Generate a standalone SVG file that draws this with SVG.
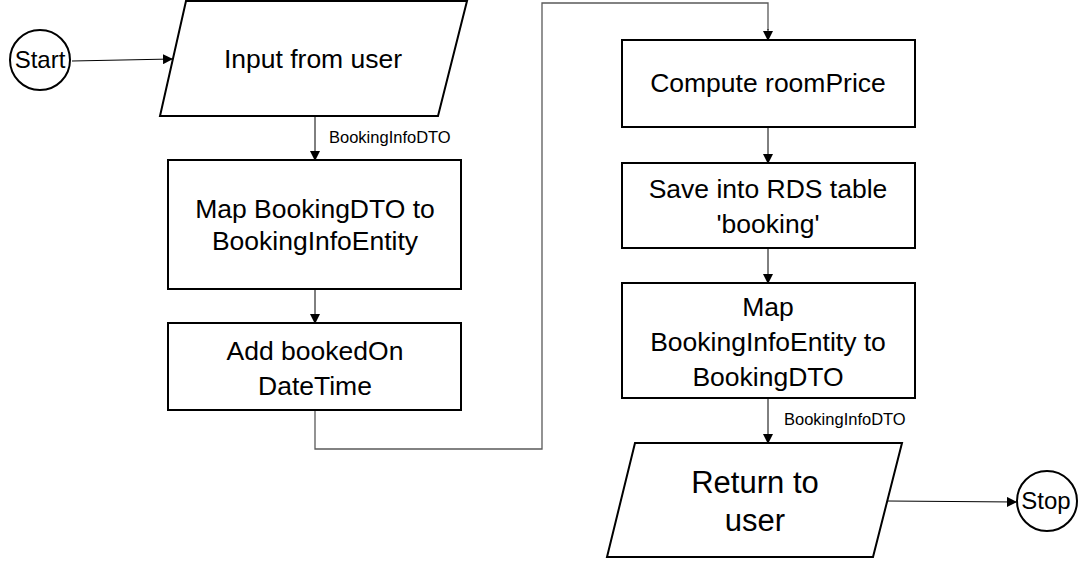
<svg xmlns="http://www.w3.org/2000/svg" width="1092" height="561" viewBox="0 0 1092 561">
<defs>
<marker id="ah" markerWidth="10" markerHeight="10" refX="9" refY="5" orient="auto" markerUnits="userSpaceOnUse">
<path d="M0,0 L10,5 L0,10 z" fill="#000"/>
</marker>
<style>
.shape{fill:#fff;stroke:#000;stroke-width:2}
.t{font-family:"Liberation Sans",Arial,sans-serif;font-size:26.5px;fill:#000;text-anchor:middle}
.big{font-size:31px}
.sm{font-size:24px}
.lbl{font-family:"Liberation Sans",Arial,sans-serif;font-size:16.5px;fill:#000}
.c{fill:none;stroke:#000;stroke-width:1}
.g{fill:none;stroke:#595959;stroke-width:1.3}
</style>
</defs>
<rect width="1092" height="561" fill="#fff"/>
<g id="connectors">
<line class="c" x1="72" y1="61" x2="172" y2="59" marker-end="url(#ah)"/>
<line class="c" x1="315" y1="116" x2="315" y2="160" marker-end="url(#ah)"/>
<line class="c" x1="315" y1="290" x2="315" y2="323" marker-end="url(#ah)"/>
<polyline class="g" points="315,410 315,449 542,449 542,3 768,3 768,30"/>
<line class="c" x1="768" y1="29" x2="768" y2="40" marker-end="url(#ah)"/>
<line class="c" x1="768" y1="127" x2="768" y2="163" marker-end="url(#ah)"/>
<line class="c" x1="768" y1="248" x2="768" y2="283" marker-end="url(#ah)"/>
<line class="c" x1="768" y1="398" x2="768" y2="443" marker-end="url(#ah)"/>
<line class="c" x1="888" y1="501" x2="1016" y2="502" marker-end="url(#ah)"/>
<text class="lbl" x="329" y="143">BookingInfoDTO</text>
<text class="lbl" x="784" y="425">BookingInfoDTO</text>
</g>
<g id="start">
<circle class="shape" cx="40" cy="60" r="30"/>
<text class="t sm" x="40" y="68">Start</text>
</g>
<g id="input">
<polygon class="shape" points="186,1 467,1 438,116 160,116"/>
<text class="t" x="313" y="68">Input from user</text>
</g>
<g id="mapToEntity">
<rect class="shape" x="168" y="160" width="293" height="129"/>
<text class="t" x="315" y="218">Map BookingDTO to</text>
<text class="t" x="315" y="250">BookingInfoEntity</text>
</g>
<g id="addBookedOn">
<rect class="shape" x="168" y="323" width="293" height="87"/>
<text class="t" x="315" y="360">Add bookedOn</text>
<text class="t" x="315" y="395">DateTime</text>
</g>
<g id="compute">
<rect class="shape" x="622" y="40" width="293" height="87"/>
<text class="t" x="768" y="92">Compute roomPrice</text>
</g>
<g id="save">
<rect class="shape" x="622" y="163" width="293" height="85"/>
<text class="t" x="768" y="198">Save into RDS table</text>
<text class="t" x="768" y="233">'booking'</text>
</g>
<g id="mapToDTO">
<rect class="shape" x="622" y="283" width="293" height="115"/>
<text class="t" x="768" y="316">Map</text>
<text class="t" x="768" y="351">BookingInfoEntity to</text>
<text class="t" x="768" y="386">BookingDTO</text>
</g>
<g id="return">
<polygon class="shape" points="635,443 902,443 873,557 607,557"/>
<text class="t big" x="755" y="493">Return to</text>
<text class="t big" x="755" y="531">user</text>
</g>
<g id="stop">
<circle class="shape" cx="1047" cy="501" r="30"/>
<text class="t sm" x="1046" y="509">Stop</text>
</g>
</svg>
